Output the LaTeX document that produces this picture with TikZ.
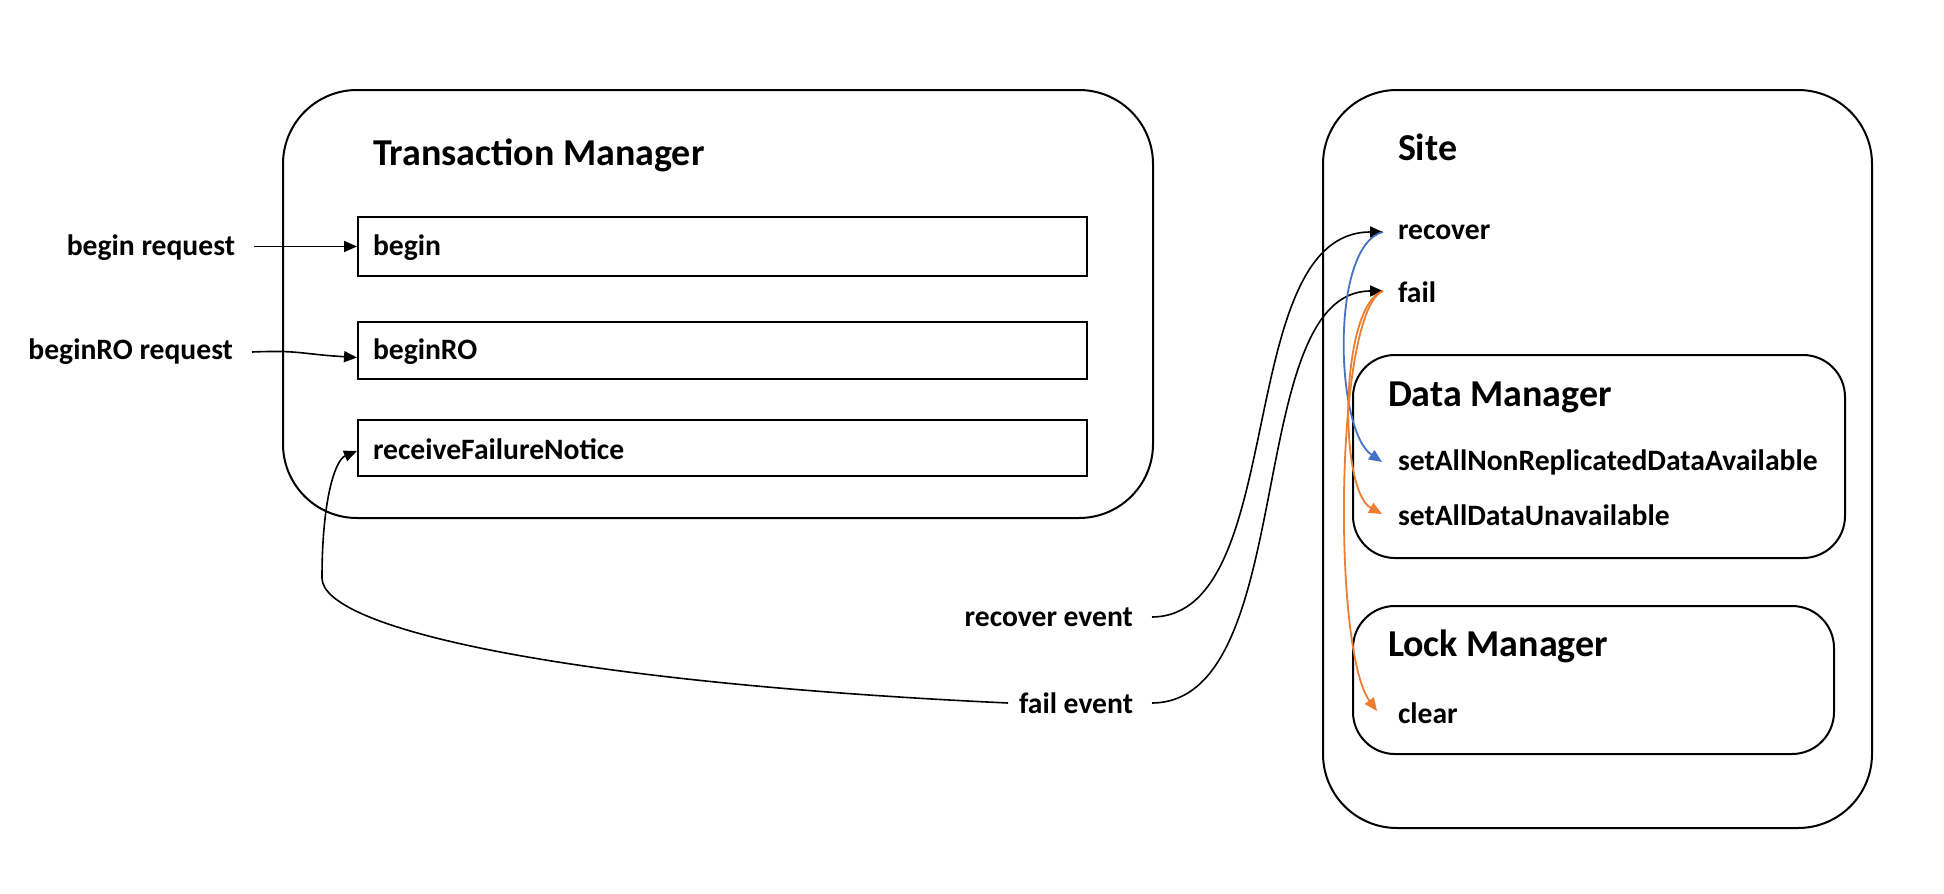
\documentclass[tikz,border=0pt]{standalone}
\usepackage{fontspec}
\setmainfont{Carlito}
\usetikzlibrary{arrows.meta}
\definecolor{oblue}{HTML}{4472C4}
\definecolor{oorange}{HTML}{ED7D31}
\begin{document}
\begin{tikzpicture}[x=0.5pt,y=-0.5pt,line width=1pt,
  lbl/.style={inner sep=0pt,font=\fontsize{14.8}{17}\selectfont\bfseries},
  ttl/.style={inner sep=0pt,font=\fontsize{19}{22}\selectfont\bfseries},
  bigbox/.style={draw,rounded corners=37pt,inner sep=0pt},
  subbox/.style={draw,rounded corners=21pt,inner sep=0pt},
  fnbox/.style={draw,inner sep=0pt},
  arr/.style={-{Triangle[length=6.5pt,width=5.5pt]},line width=0.8pt},
  carr/.style={arr,line width=0.9pt}]
\useasboundingbox (0,0) rectangle (1944,894);
% containers
\node[bigbox,minimum width=435pt,minimum height=214pt] (tm) at (718,304) {};
\node[bigbox,minimum width=274.5pt,minimum height=369pt] (site) at (1597.5,459) {};
\node[subbox,minimum width=246pt,minimum height=101.5pt] (dm) at (1599,456.5) {};
\node[subbox,minimum width=240.5pt,minimum height=74pt] (lm) at (1593.5,680) {};
% function boxes
\node[fnbox,minimum width=364.5pt,minimum height=29.5pt] (bg) at (722.5,246.5) {};
\node[fnbox,minimum width=364.5pt,minimum height=28.5pt] (bro) at (722.5,350.5) {};
\node[fnbox,minimum width=364.5pt,minimum height=28pt] (rfn) at (722.5,448) {};
% titles
\node[ttl,anchor=west] (tmt) at (372,155) {Transaction Manager};
\node[ttl,anchor=west] (sitet) at (1397,147) {Site};
\node[ttl,anchor=west] (dmt) at (1387,397) {Data Manager};
\node[ttl,anchor=west] (lmt) at (1387,646) {Lock Manager};
% labels
\node[lbl,anchor=west] (bgt) at (372,248) {begin};
\node[lbl,anchor=west] (brot) at (372,352) {beginRO};
\node[lbl,anchor=west] (rfnt) at (372,449) {receiveFailureNotice};
\node[lbl,anchor=west] (rec) at (1397,232) {recover};
\node[lbl,anchor=west] (fail) at (1397,292) {fail};
\node[lbl,anchor=west] (snr) at (1397,462) {setAllNonReplicatedDataAvailable};
\node[lbl,anchor=west] (sdu) at (1397,515) {setAllDataUnavailable};
\node[lbl,anchor=west] (clr) at (1397,713) {clear};
\node[lbl,anchor=east] (breq) at (236,248) {begin request};
\node[lbl,anchor=east] (broreq) at (234,352) {beginRO request};
\node[lbl,anchor=east] (recev) at (1134,617) {recover event};
\node[lbl,anchor=east] (failev) at (1134,703) {fail event};
% anchor points
\coordinate (recin) at (1383,232);
\coordinate (failin) at (1383,291);
\coordinate (snrin) at (1382,462);
\coordinate (sduin) at (1382,514);
\coordinate (clrin) at (1377,711);
\coordinate (rfnin) at (357,451);
% black connectors
\draw[arr] ([xshift=9pt]breq.east |- bg.west) -- (bg.west);
\draw[arr] ([xshift=9pt]broreq.east) .. controls (300,350) and (300,354) .. ([yshift=-3.5pt]bro.west);
\draw[arr] ([xshift=9pt]recev.east) .. controls (1290,616) and (1232,232) .. (recin);
\draw[arr] ([xshift=9pt]failev.east) .. controls (1300,702) and (1242,291) .. (failin);
\draw[arr] ([xshift=-5pt]failev.west) .. controls (560,682) and (322,628) .. (322,578)
   .. controls (322,500) and (335,460) .. (rfnin);
% coloured connectors
\draw[carr,oblue] (recin) .. controls (1330,245) and (1335,430) .. (snrin);
\draw[carr,oorange] (failin) .. controls (1340,305) and (1338,490) .. (sduin);
\draw[carr,oorange] (failin) .. controls (1335,310) and (1332,650) .. (clrin);
\end{tikzpicture}
\end{document}
